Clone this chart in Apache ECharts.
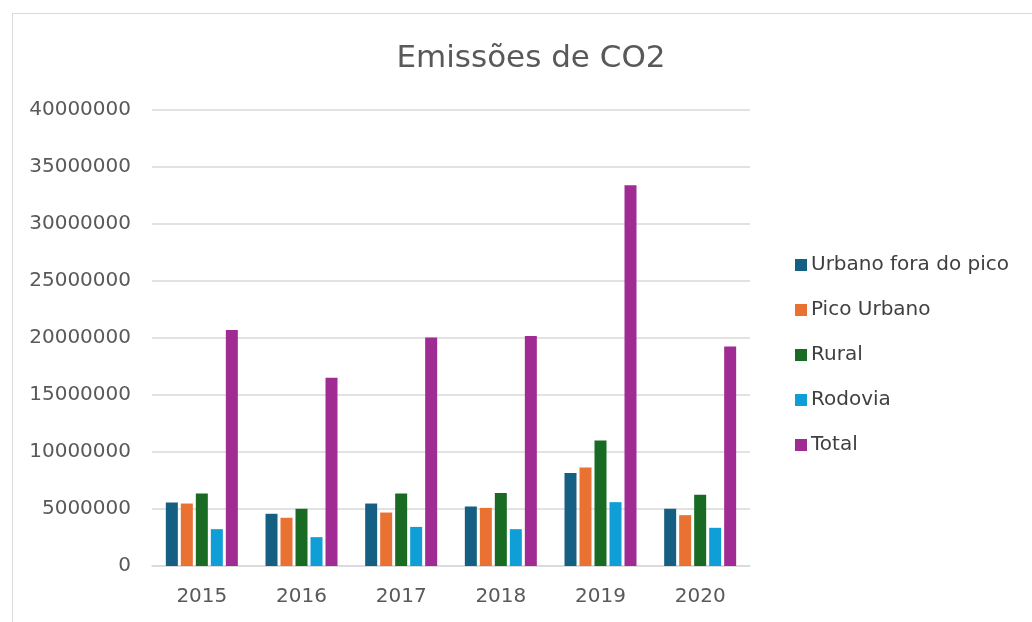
<!DOCTYPE html>
<html>
<head>
<meta charset="utf-8">
<script src="https://cdn.jsdelivr.net/npm/echarts@6/dist/echarts.min.js"></script>
<style>
  html, body { margin: 0; padding: 0; background: #fff; }
  #frame { position: absolute; left: 12px; top: 13px; width: 1030px; height: 620px;
           border-left: 1.5px solid #d9d9d9; border-top: 1.5px solid #d9d9d9; }
  #chart { position: absolute; left: 0; top: 0; width: 1032px; height: 622px; }
</style>
</head>
<body>
<div id="frame"></div>
<div id="chart"></div>
<script>
// anos
const years = ['2015', '2016', '2017', '2018', '2019', '2020']
// séries
const urbanoForaPico = [5570000, 4580000, 5480000, 5220000, 8160000, 5020000]
const picoUrbano = [5480000, 4230000, 4690000, 5100000, 8630000, 4460000]
const rural = [6360000, 5020000, 6360000, 6400000, 11000000, 6250000]
const rodovia = [3230000, 2530000, 3430000, 3230000, 5600000, 3350000]
const total = [20710000, 16520000, 20040000, 20180000, 33390000, 19250000]

const seriesNames = ['Urbano fora do pico', 'Pico Urbano', 'Rural', 'Rodovia', 'Total']
const seriesData = [urbanoForaPico, picoUrbano, rural, rodovia, total]
const colors = ['#156082', '#E97132', '#196B24', '#0F9ED5', '#A02B93']

const font = '"DejaVu Sans", sans-serif'

const chart = echarts.init(document.getElementById('chart'))
chart.setOption({
  animation: false,
  color: colors,
  title: {
    text: 'Emissões de CO2',
    left: 526,
    textAlign: 'center',
    top: 38,
    textStyle: { color: '#595959', fontSize: 31, fontWeight: 'normal', fontFamily: font }
  },
  legend: {
    orient: 'vertical',
    left: 790,
    top: 250,
    itemWidth: 12,
    itemHeight: 12,
    itemGap: 25,
    icon: 'rect',
    data: seriesNames,
    textStyle: { color: '#404040', fontSize: 20, fontFamily: font, padding: [0, 0, 0, -1] }
  },
  grid: { left: 152, right: 282, top: 110, bottom: 56, containLabel: false },
  xAxis: {
    type: 'category',
    data: years,
    axisTick: { show: false },
    axisLine: { lineStyle: { color: '#d9d9d9', width: 1.5 } },
    axisLabel: { color: '#595959', fontSize: 20, fontFamily: font, margin: 21 }
  },
  yAxis: {
    type: 'value',
    min: 0,
    max: 40000000,
    interval: 5000000,
    axisLabel: { color: '#595959', fontSize: 20, fontFamily: font, margin: 21, formatter: v => String(v) },
    splitLine: { lineStyle: { color: '#d9d9d9', width: 1.5 } }
  },
  series: seriesNames.map((name, i) => ({
    name: name,
    type: 'bar',
    data: seriesData[i],
    barWidth: 12,
    barGap: '25%'
  }))
})
</script>
</body>
</html>
